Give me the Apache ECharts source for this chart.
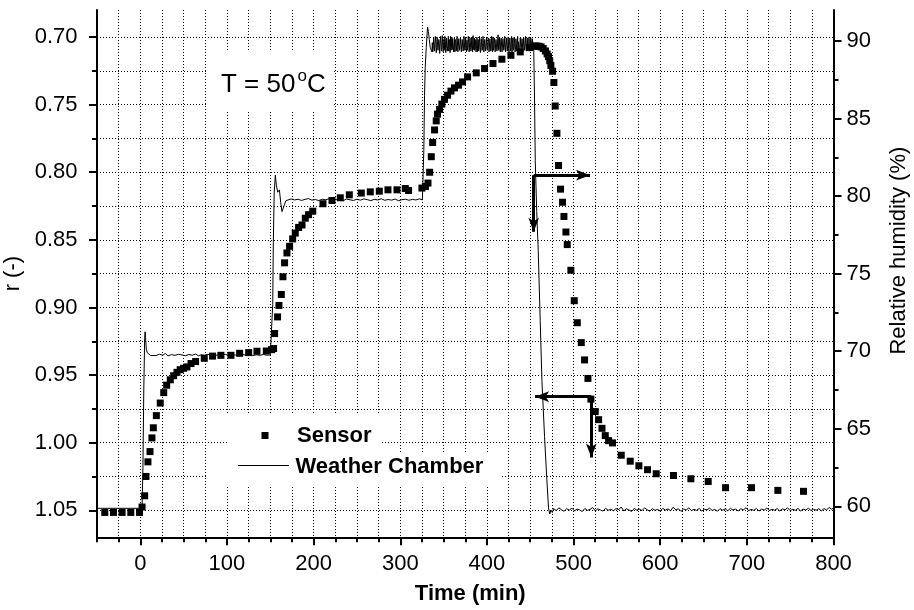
<!DOCTYPE html>
<html>
<head>
<meta charset="utf-8">
<script src="https://cdn.jsdelivr.net/npm/echarts@6.0.0/dist/echarts.min.js"></script>
<style>
html,body{margin:0;padding:0;background:#fff;}
#chart{width:914px;height:610px;}
</style>
</head>
<body>
<div id="chart"></div>
<script>
var FONT = '"Liberation Sans", Arial, sans-serif';

// sensor readings [time (min), r (-)]
var sensor = [
	[-41,1.0516],[-31,1.0516],[-21,1.0516],[-11,1.0516],[-1,1.0516],
	[2,1.0476],[5,1.0393],[6.5,1.025],[8.8,1.0142],[11.2,1.0066],[13.4,0.9965],[15,0.989],[18.5,0.980],
	[23,0.9707],[27,0.963],[30.4,0.9575],[34.6,0.9535],[38.5,0.9505],[42.3,0.948],[46,0.946],[50,0.945],
	[53.8,0.944],[58.5,0.9415],[63.8,0.940],[73.8,0.9376],[83.4,0.936],[93,0.9354],[104.6,0.9354],
	[114.6,0.9339],[125,0.9334],[134.6,0.9324],[145.4,0.9322],[151.5,0.9312],[153.8,0.9304],[155,0.9193],
	[158.4,0.907],[160,0.8985],[162.7,0.8904],[164.6,0.8773],[166.5,0.867],[169.2,0.8597],[172.3,0.8548],
	[175.8,0.8493],[178.8,0.845],[182.7,0.8408],[186.6,0.839],[190.4,0.834],[194.2,0.8314],[199,0.8288],
	[210.8,0.8233],[221.2,0.8209],[230.8,0.8189],[241.2,0.8167],[255,0.8154],[265.4,0.8145],[275.8,0.814],
	[285.8,0.813],[296.2,0.813],[305.8,0.812],[309.6,0.8135],[325,0.8117],[329,0.8106],[332,0.808],
	[333.9,0.800],[335.8,0.7885],[337.4,0.778],[339.6,0.7687],[341.5,0.762],[343,0.757],[345.4,0.7535],
	[348,0.7496],[351,0.7461],[354.6,0.743],[358.5,0.740],[362.6,0.7376],[367.3,0.7356],[371.9,0.7332],
	[377.7,0.7295],[387.7,0.7265],[397.3,0.7233],[407,0.7196],[417.3,0.7164],[427.7,0.7135],[438.5,0.711],
	[449.2,0.7078],[454,0.7068],[457,0.7066],[460,0.7068],[462.5,0.7073],[465,0.7085],[467.5,0.7103],
	[469.5,0.7125],[471.1,0.7145],[472.5,0.7175],[473.8,0.721],[475.8,0.7253],[477.3,0.7336],[478.8,0.751],
	[480.8,0.7712],[482.7,0.795],[485,0.8125],[487.3,0.8222],[488.9,0.8327],[491.2,0.8442],[492.7,0.8535],
	[496.9,0.8725],[500.8,0.895],[504.3,0.9113],[508.9,0.926],[512.7,0.9388],[516.6,0.9525],[520,0.9678],
	[525,0.977],[528.9,0.983],[532.8,0.9894],[536.6,0.9948],[540.4,0.9985],[545,1.0002],[555,1.0093],
	[565.4,1.0137],[575.4,1.0171],[585.4,1.020],[595.4,1.023],[615.3,1.0243],[635.4,1.0267],[655.4,1.0287],
	[675.4,1.0333],[705.4,1.0333],[735.8,1.0353],[765.4,1.036]
];

// weather chamber readings [time (min), RH (%)]
var chamber = [
	[-50,59.87],[2,59.87],[3,62.5],[4,67.5],[5,70.8],[5.5,71.25],[6,70.9],[7,70.1],[8,69.9],[10,69.8],[12,69.72],
	[14,69.78],[18,69.72],[22,69.8],[26,69.74],[29,69.85],[32,69.7],[36,69.78],[40,69.73],[44,69.8],[48,69.76],
	[52,69.71],[56,69.79],[60,69.74],[64,69.82],[67,69.7],[70,69.77],[74,69.73],[78,69.8],[82,69.75],[86,69.71],
	[90,69.78],[94,69.74],[98,69.8],[102,69.72],[106,69.77],[110,69.75],[114,69.7],[118,69.79],[122,69.74],
	[126,69.81],[130,69.72],[134,69.77],[138,69.73],[142,69.79],[146,69.74],[150,69.76],
	[152,69.8],[152.8,73],[153.5,77],[154.5,80.2],[155.8,81.35],[157,80.7],[158.5,80.25],[160.5,80.4],
	[162,79.6],[163.5,79.0],[164.6,78.9],[166,79.4],[168,79.7],[170,79.8],
	[174,79.82],[178,79.75],[182,79.8],[186,79.72],[190,79.79],[194,79.84],[198,79.74],[202,79.78],[206,79.71],
	[210,79.8],[214,79.76],[218,79.83],[222,79.73],[226,79.79],[230,79.75],[234,79.7],[238,79.81],[242,79.76],
	[246,79.72],[250,79.8],[254,79.74],[258,79.82],[262,79.77],[266,79.71],[270,79.79],[274,79.75],[278,79.83],
	[282,79.73],[286,79.78],[290,79.74],[294,79.81],[298,79.7],[302,79.77],[306,79.8],[310,79.73],[314,79.79],
	[318,79.75],[322,79.82],[325.5,79.76],
	[326.5,79.8],[327.2,83],[328,86.5],[328.8,88.3],[330,89.6],[331.5,90.9],[332.5,90.6],[333.5,90.1],
	[334.5,89.6],[335.5,89.5],[336.5,89.3],
	[337,89.9],[337.5,89.3],[338,89.5],[338.5,90.2],[339,90.1],[339.5,89.35],[340,89.4],[340.5,90.3],[341,89.95],[341.5,89.25],
	[342,89.6],[342.5,90.25],[343,90.2],[343.5,89.4],[344,89.45],[344.5,90.1],[345,89.85],[345.5,89.2],[346,89.3],[346.5,90.3],
	[347,90.05],[347.5,89.35],[348,89.55],[348.5,90.35],[349,90.25],[349.5,89.3],[350,89.65],[350.5,90.15],[351,89.4],[351.5,90.3],
	[352,90.0],[352.5,89.25],[353,89.5],[353.5,90.2],[354,90.15],[354.5,89.35],[355,89.7],[355.5,90.3],[356,89.35],[356.5,90.1],
	[357,89.9],[357.5,89.25],[358,90.3],[358.5,89.4],[359,89.6],[359.5,90.25],[360,89.45],[360.5,90.15],[361,90.05],[361.5,89.3],
	[362,89.75],[362.5,90.2],[363,89.3],[363.5,89.95],[364,90.1],[364.5,89.35],[365,89.55],[365.5,90.3],[366,89.95],[366.5,89.3],
	[367,89.4],[367.5,90.15],[368,90.2],[368.5,89.4],[369,89.65],[369.5,90.25],[370,89.85],[370.5,89.3],[371,89.25],[371.5,90.1],
	[372,90.0],[372.5,89.35],[373,89.5],[373.5,90.3],[374,90.25],[374.5,89.4],[375,89.7],[375.5,90.2],[376,89.45],[376.5,89.3],
	[377,90.05],[377.5,89.4],[378,89.6],[378.5,90.3],[379,89.9],[379.5,89.3],[380,89.35],[380.5,90.2],[381,90.15],[381.5,89.35],
	[382,89.55],[382.5,90.25],[383,89.8],[383.5,89.3],[384,90.35],[384.5,89.45],[385,89.6],[385.5,90.2],[386,89.4],[386.5,90.1],
	[387,90.0],[387.5,89.3],[388,89.7],[388.5,90.25],[389,89.3],[389.5,89.95],[390,90.1],[390.5,89.35],[391,89.55],[391.5,90.3],
	[392,89.95],[392.5,89.25],[393,89.45],[393.5,90.15],[394,90.2],[394.5,89.4],[395,89.65],[395.5,90.3],[396,89.85],[396.5,89.3],
	[397,89.2],[397.5,90.1],[398,90.05],[398.5,89.35],[399,89.6],[399.5,90.25],[400,90.3],[400.5,89.4],[401,89.5],[401.5,90.2],
	[402,89.9],[402.5,89.3],[403,89.4],[403.5,90.15],[404,90.1],[404.5,89.35],[405,89.7],[405.5,90.3],[406,89.45],[406.5,89.3],
	[407,90.25],[407.5,89.4],[408,89.6],[408.5,90.2],[409,89.85],[409.5,89.3],[410,89.3],[410.5,90.1],[411,90.05],[411.5,89.35],
	[412,89.55],[412.5,90.2],[413,90.4],[413.5,89.4],[414,89.7],[414.5,90.25],[415,89.45],[415.5,89.3],[416,90.0],[416.5,90.2],
	[417,89.65],[417.5,89.3],[418,89.35],[418.5,90.15],[419,90.15],[419.5,89.4],[420,89.6],[420.5,90.3],[421,89.9],[421.5,89.3],
	[422,89.4],[422.5,90.2],[423,90.3],[423.5,89.35],[424,89.7],[424.5,90.25],[425,89.5],[425.5,89.3],[426,90.05],[426.5,90.2],
	[427,89.6],[427.5,89.35],[428,89.95],[428.5,90.3],[429,89.3],[429.5,89.9],[430,90.2],[430.5,89.4],[431,89.55],[431.5,90.25],
	[432,89.85],[432.5,89.3],[433,89.45],[433.5,90.15],[434,90.1],[434.5,89.35],[435,89.7],[435.5,90.3],[436,89.4],[436.5,89.95],
	[437,90.0],[437.5,89.3],[438,89.6],[438.5,90.2],[439,90.25],[439.5,89.4],[440,89.5],[440.5,90.15],[441,89.8],[441.5,89.3],
	[442,89.35],[442.5,90.2],[443,90.1],[443.5,89.4],[444,89.65],[444.5,90.3],[445,89.9],[445.5,89.35],[446,89.45],[446.5,90.2],
	[447,90.15],[447.5,89.4],[448,89.6],[448.5,90.25],[449,89.85],[449.5,89.35],[450,89.5],[450.5,90.2],[451,90.05],[451.5,89.45],
	[452,89.7],[452.5,90.15],[453,89.8],[453.5,89.5],
	[454,89.75],[455,86],[455.8,82.3],[457.5,79],[459.2,76.5],[461.5,72],[463.5,68.1],[466.5,64.5],[469.2,61.7],
	[471.1,59.9],[472.5,59.5],[474,59.75],[475.5,59.6],
	[477,59.85],[480,59.72],[483,59.9],[486,59.78],[489,59.68],[492,59.84],[495,59.75],[498,59.88],[501,59.7],
	[504,59.82],[507,59.77],[510,59.66],[513,59.86],[516,59.74],[519,59.8],[522,59.92],[525,59.7],[528,59.83],
	[531,59.76],[534,59.69],[537,59.87],[540,59.74],[543,59.81],[546,59.71],[549,59.85],[552,59.78],[555,59.95],
	[558,59.7],[561,59.84],[564,59.76],[567,59.67],[570,59.86],[573,59.75],[576,59.82],[579,59.72],[582,59.9],
	[585,59.77],[588,59.68],[591,59.85],[594,59.74],[597,59.8],[600,59.69],[603,59.87],[606,59.75],[609,59.83],
	[612,59.71],[615,59.94],[618,59.76],[621,59.84],[624,59.67],[627,59.82],[630,59.76],[633,59.9],[636,59.72],
	[639,59.8],[642,59.74],[645,59.86],[648,59.7],[651,59.81],[654,59.77],[657,59.88],[660,59.73],[663,59.8],
	[666,59.68],[669,59.85],[672,59.75],[675,59.83],[678,59.71],[681,59.87],[684,59.76],[687,59.82],[690,59.7],
	[693,59.84],[696,59.77],[699,59.91],[702,59.72],[705,59.8],[708,59.74],[711,59.86],[714,59.69],[717,59.82],
	[720,59.76],[723,59.88],[726,59.73],[729,59.8],[732,59.75],[735,59.85],[738,59.7],[741,59.83],[744,59.77],
	[747,59.9],[750,59.72],[753,59.81],[756,59.74],[759,59.86],[762,59.7],[765,59.82],[768,59.76],[771,59.87],
	[774,59.73],[777,59.8],[780,59.75],[783,59.84],[786,59.71],[789,59.85],[792,59.77],[795,59.92],[798,59.8],
	[800,59.9]
];

// tick values / labels
var xLabels = [0,100,200,300,400,500,600,700,800];
var rMinorTicks = [0.70,0.725,0.75,0.775,0.80,0.825,0.85,0.875,0.90,0.925,0.95,0.975,1.00,1.025,1.05];
var rLabels = [0.70,0.75,0.80,0.85,0.90,0.95,1.00,1.05];
var rhMinorTicks = [60,62.5,65,67.5,70,72.5,75,77.5,80,82.5,85,87.5,90];
var rhLabels = [60,65,70,75,80,85,90];

// annotation arrows (start, end) in data units
var arrowsRH = [[[454,81.35],[519,81.35]],[[454,81.35],[454,77.7]]];
var arrowsR = [[[520.5,0.966],[455.6,0.966]],[[520.5,0.966],[520.5,1.011]]];

var chart = echarts.init(document.getElementById('chart'), null, {renderer:'canvas'});

var axisLineStyle = {show:true, onZero:false, lineStyle:{color:'#000', width:2}};
var noLine = {show:false, onZero:false};
var tickStyle = {color:'#000', width:2};
var gridDots = {show:true, lineStyle:{color:'#000', width:1, type:[1,2]}};
var labelStyle = {color:'#000', fontFamily:FONT, fontSize:22};

function arrowMark(list){
	return {
		silent:true,
		symbol:['none','arrow'],
		symbolSize:[8,14],
		lineStyle:{color:'#000', width:3, type:'solid'},
		label:{show:false},
		emphasis:{disabled:true},
		data:list.map(function(a){ return [{coord:a[0]},{coord:a[1]}]; })
	};
}

var option = {
	animation:false,
	backgroundColor:'#fff',
	grid:{left:97, right:80.5, top:10, bottom:72.7, containLabel:false, outerBoundsMode:'none'},
	xAxis:[{
		type:'value', position:'bottom', min:-50, max:800, interval:25,
		axisLine:axisLineStyle,
		axisTick:{show:true, inside:false, length:5, lineStyle:tickStyle},
		axisLabel:Object.assign({margin:16, formatter:function(v){ return xLabels.indexOf(v) >= 0 ? String(v) : ''; }}, labelStyle),
		splitLine:gridDots,
		name:'Time (min)', nameLocation:'middle', nameGap:46,
		nameTextStyle:{color:'#000', fontFamily:FONT, fontSize:22, fontWeight:'bold', padding:[0,0,0,10]}
	},{
		type:'value', position:'bottom', min:-50, max:800,
		axisLine:noLine, axisLabel:{show:false}, splitLine:{show:false},
		axisTick:{show:true, length:8, customValues:xLabels, lineStyle:tickStyle}
	}],
	yAxis:[{
		type:'value', position:'left', inverse:true, min:0.68, max:1.07,
		axisLine:axisLineStyle,
		axisTick:{show:true, length:5, customValues:rMinorTicks, lineStyle:tickStyle},
		axisLabel:Object.assign({margin:19.5, customValues:rLabels, formatter:function(v){ return v.toFixed(2); }}, labelStyle),
		splitLine:gridDots,
		name:'r (-)', nameLocation:'middle', nameGap:71,
		nameTextStyle:{color:'#000', fontFamily:FONT, fontSize:22}
	},{
		type:'value', position:'left', inverse:true, min:0.68, max:1.07,
		axisLine:noLine, axisLabel:{show:false}, splitLine:{show:false},
		axisTick:{show:true, length:8, customValues:rLabels, lineStyle:tickStyle}
	},{
		type:'value', position:'right', min:58, max:92,
		axisLine:axisLineStyle,
		axisTick:{show:true, length:5, customValues:rhMinorTicks, lineStyle:tickStyle},
		axisLabel:Object.assign({margin:13, customValues:rhLabels}, labelStyle),
		splitLine:{show:false},
		name:'Relative humidity (%)', nameLocation:'middle', nameGap:54,
		nameTextStyle:{color:'#000', fontFamily:FONT, fontSize:22, padding:[0,0,0,46]}
	},{
		type:'value', position:'right', min:58, max:92,
		axisLine:noLine, axisLabel:{show:false}, splitLine:{show:false},
		axisTick:{show:true, length:8, customValues:rhLabels, lineStyle:tickStyle}
	}],
	series:[{
		name:'Weather Chamber', type:'line', xAxisIndex:0, yAxisIndex:2,
		data:chamber, showSymbol:false, symbol:'none', z:2,
		lineStyle:{color:'#000', width:1},
		emphasis:{disabled:true},
		markLine:arrowMark(arrowsRH)
	},{
		name:'Sensor', type:'scatter', xAxisIndex:0, yAxisIndex:0,
		data:sensor, symbol:'rect', symbolSize:7, z:3,
		itemStyle:{color:'#000', opacity:1},
		emphasis:{disabled:true},
		markLine:arrowMark(arrowsR)
	}],
	graphic:[
		// white text backgrounds covering the grid
		{type:'rect', z:10, shape:{x:206, y:52, width:128, height:59}, style:{fill:'#fff'}},
		{type:'rect', z:10, shape:{x:227, y:413, width:153, height:39}, style:{fill:'#fff'}},
		{type:'rect', z:10, shape:{x:208, y:452, width:292, height:33}, style:{fill:'#fff'}},
		// T = 50°C
		{type:'text', z:11, x:221, y:85, style:{text:'T = 50', fontFamily:FONT, fontSize:26, fill:'#000', verticalAlign:'middle'}},
		{type:'text', z:11, x:297.5, y:76.5, style:{text:'o', fontFamily:FONT, fontSize:17, fill:'#000', verticalAlign:'middle'}},
		{type:'text', z:11, x:307, y:85, style:{text:'C', fontFamily:FONT, fontSize:26, fill:'#000', verticalAlign:'middle'}},
		// legend
		{type:'rect', z:11, shape:{x:261.5, y:432, width:7, height:7}, style:{fill:'#000'}},
		{type:'text', z:11, x:297, y:436, style:{text:'Sensor', fontFamily:FONT, fontSize:22, fontWeight:'bold', fill:'#000', verticalAlign:'middle'}},
		{type:'line', z:11, shape:{x1:238, y1:465.5, x2:289, y2:465.5}, style:{stroke:'#000', lineWidth:1}},
		{type:'text', z:11, x:295.5, y:467, style:{text:'Weather Chamber', fontFamily:FONT, fontSize:22, fontWeight:'bold', fill:'#000', verticalAlign:'middle'}}
	]
};

chart.setOption(option);
</script>
</body>
</html>
